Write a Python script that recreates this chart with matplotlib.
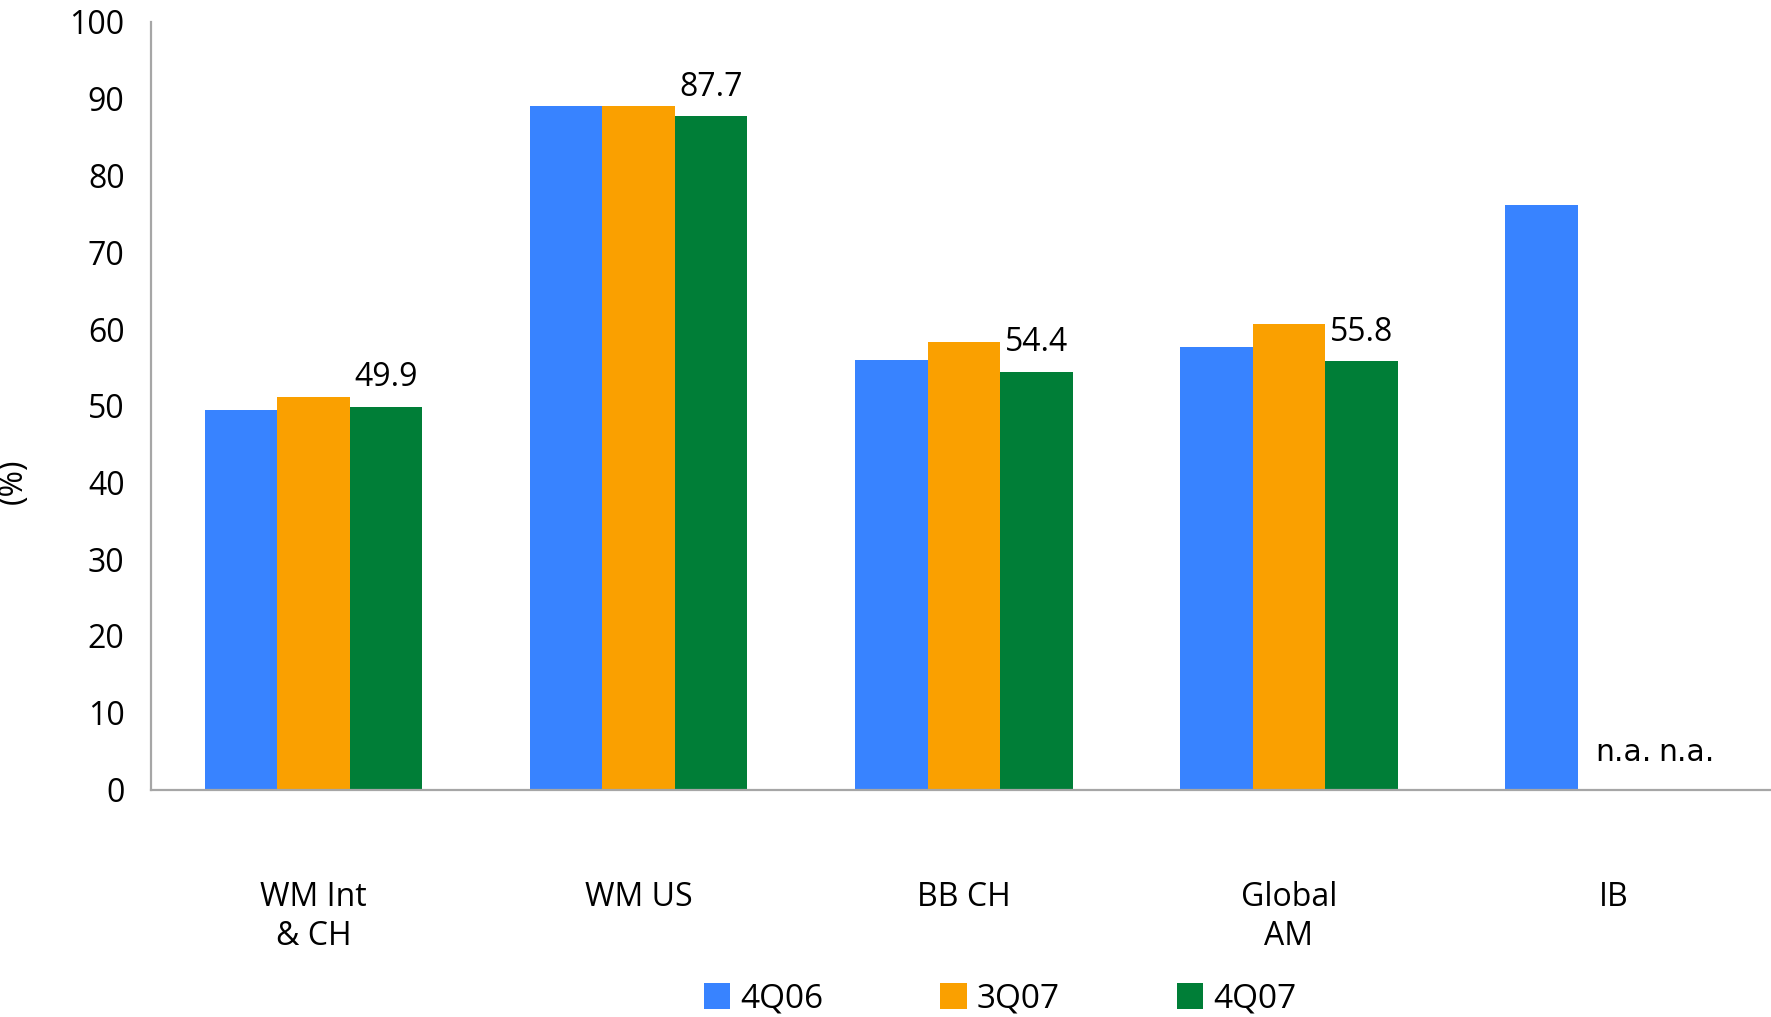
import numpy as np
import matplotlib
matplotlib.use('Agg')
import matplotlib.pyplot as plt

plt.rcParams['font.family'] = ['Open Sans', 'DejaVu Sans']

# cost/income ratio by business unit
categories = ['WM Int\n& CH', 'WM US', 'BB CH', 'Global\nAM', 'IB']
series = ['4Q06', '3Q07', '4Q07']
q4_06 = [49.4, 89.0, 56.0, 57.6, 76.2]
q3_07 = [51.1, 89.1, 58.3, 60.7, np.nan]
q4_07 = [49.9, 87.7, 54.4, 55.8, np.nan]
colors = ['#3883FF', '#FAA000', '#007E37']

fig = plt.figure(figsize=(17.71, 10.17), dpi=100)
ax = fig.add_axes([151 / 1771, 1 - 789.5 / 1017, 1 - 151 / 1771, (789.5 - 22) / 1017])

x = np.arange(len(categories))
w = 0.223
bars = []
for i, (vals, name) in enumerate(zip([q4_06, q3_07, q4_07], series)):
    b = ax.bar(x + (i - 1) * w, np.nan_to_num(vals), w, color=colors[i], label=name)
    bars.append(b)

# value labels on the latest quarter
for xi, v in zip(x, q4_07):
    if np.isnan(v):
        continue
    ax.annotate(f'{v:.1f}', (xi + w, v), xytext=(0, 21), textcoords='offset points',
                ha='center', va='center', fontsize=23)

# missing values for IB
for dx in (0.03, w):
    ax.text(x[-1] + dx, 2.9, 'n.a.', ha='center', va='bottom',
            fontsize=21.5, family='DejaVu Sans')

ax.set_xlim(-0.5, (1771 - 313) / 325.25)
ax.set_ylim(0, 100)
ax.set_yticks(range(0, 101, 10))
ax.set_xticks(x)
ax.set_xticklabels(categories, fontsize=23, linespacing=1.25)
ax.tick_params(axis='y', length=0, pad=19, labelsize=23)
ax.tick_params(axis='x', length=0, pad=66)

for s in ['top', 'right']:
    ax.spines[s].set_visible(False)
for s in ['left', 'bottom']:
    ax.spines[s].set_color('#A6A6A6')
    ax.spines[s].set_linewidth(1.6)

ax.set_ylabel('(%)', fontsize=23)
ax.yaxis.set_label_coords((30 - 151) / 1620, (789.5 - 481) / 767.5)

fig.legend(handles=bars, labels=series, loc='center', bbox_to_anchor=(1000 / 1771, 1 - 999 / 1017),
           ncol=3, frameon=False, fontsize=24, handlelength=0.8, handleheight=0.8,
           handletextpad=0.3, columnspacing=3.5)

fig.savefig('out.png', dpi=100)
